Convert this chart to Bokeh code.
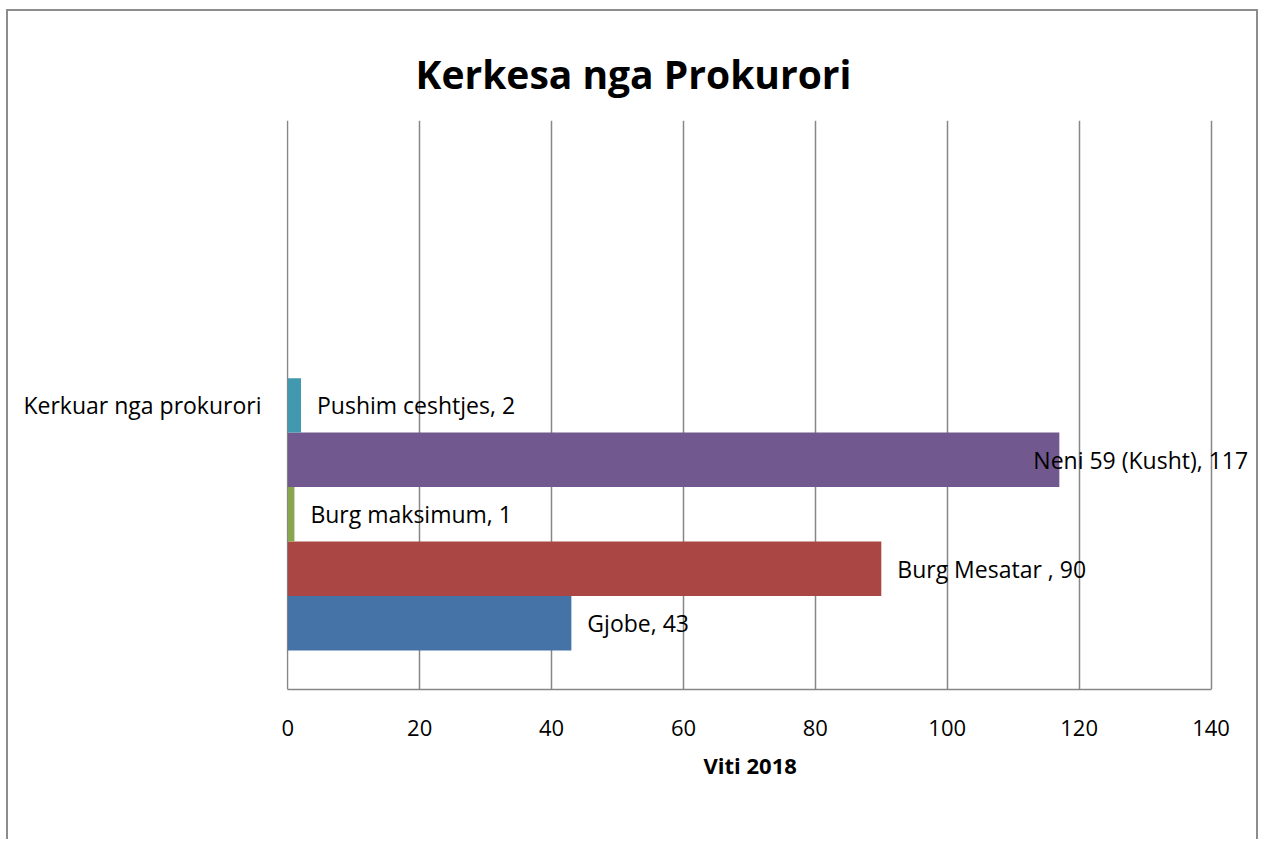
from bokeh.plotting import figure
from bokeh.models import ColumnDataSource, LabelSet, Range1d, FixedTicker, Title
from bokeh.core.properties import value
from bokeh.embed import file_html
from bokeh.resources import INLINE

# ---- data ----
series = ["Gjobe", "Burg Mesatar ", "Burg maksimum", "Neni 59 (Kusht)", "Pushim ceshtjes"]
values = [43, 90, 1, 117, 2]
category = "Kerkuar nga prokurori"
x_ticks = [0, 20, 40, 60, 80, 100, 120, 140]
title_text = "Kerkesa nga Prokurori"
x_title = "Viti 2018"

# ---- styles ----
colors = ["#4572A7", "#AA4643", "#89A54E", "#71588F", "#4198AF"]
label_offsets = [16, 16, 16, -26, 16]
FONT = "Open Sans"
GRID = "#868686"
BORDER = "2px solid #8c8c8c"

n = len(series)
ypos = [i + 0.5 for i in range(n)]
labels = [f"{s}, {v}" for s, v in zip(series, values)]

src = ColumnDataSource(dict(y=ypos, v=values, c=colors, lab=labels, off=label_offsets))

# frame is extended to the right edge so that the data labels are not clipped;
# the axis line is bounded to the 0..140 value range
p = figure(width=1252, height=830, output_backend="svg", toolbar_location=None,
           x_range=Range1d(-0.2, 146.9), y_range=Range1d(-0.716, n + 4.73),
           min_border_left=278, min_border_right=4, min_border_top=109,
           min_border_bottom=152)
p.styles = {"border-top": BORDER, "border-left": BORDER, "border-right": BORDER,
            "margin-left": "6px", "margin-top": "9px"}

p.hbar(y="y", left=0, right="v", height=1.0, color="c", line_color=None, source=src)

p.add_layout(LabelSet(x="v", y="y", text="lab", x_offset="off", source=src,
                      text_baseline="middle", text_font=value(FONT),
                      text_font_size="23px", text_color="#000000"))

# the built-in title (closest to the plot area) acts as an invisible spacer
p.title.text = " "
p.title.text_font_size = "2px"
p.title.text_alpha = 0
p.title.standoff = 7

# the visible chart title, stacked above the spacer
p.add_layout(Title(text=title_text, text_font=FONT, text_font_size="39px",
                   text_font_style="bold", text_color="#000000", align="left",
                   offset=129, standoff=42), "above")

p.add_layout(Title(text=x_title, text_font=FONT, text_font_size="22px",
                   text_font_style="bold", text_color="#000000", align="left",
                   offset=417, standoff=18), "below")

p.outline_line_color = None
p.background_fill_color = "white"
p.border_fill_color = "white"

p.xgrid.ticker = FixedTicker(ticks=x_ticks)
p.xgrid.grid_line_color = GRID
p.xgrid.grid_line_width = 1.5
p.ygrid.grid_line_color = None

p.xaxis.ticker = FixedTicker(ticks=x_ticks)
p.xaxis.bounds = (x_ticks[0], x_ticks[-1])
p.xaxis.axis_line_color = GRID
p.xaxis.axis_line_width = 1.5
p.xaxis.major_tick_line_color = None
p.xaxis.minor_tick_line_color = None
p.xaxis.major_label_standoff = 24
p.xaxis.major_label_text_font = FONT
p.xaxis.major_label_text_font_size = "22px"
p.xaxis.major_label_text_color = "#000000"

p.yaxis.ticker = FixedTicker(ticks=[ypos[-1]])
p.yaxis.major_label_overrides = {ypos[-1]: category}
p.yaxis.axis_line_color = None
p.yaxis.major_tick_line_color = None
p.yaxis.minor_tick_line_color = None
p.yaxis.major_label_standoff = 19
p.yaxis.major_label_text_font = FONT
p.yaxis.major_label_text_font_size = "23px"
p.yaxis.major_label_text_color = "#000000"

open("out.html", "w").write(file_html(p, INLINE))
